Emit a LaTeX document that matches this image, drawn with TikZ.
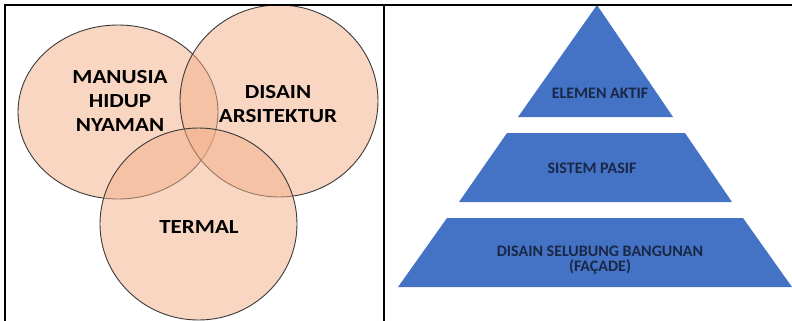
\documentclass[tikz,border=0pt]{standalone}
\usepackage{fontspec}
\setmainfont{Carlito}
\usepackage{xcolor}
\usetikzlibrary{positioning}
\definecolor{peach}{HTML}{F3B08A}
\definecolor{rim}{HTML}{3A3A3A}
\definecolor{tier}{HTML}{4472C4}
\definecolor{navy}{HTML}{1A2747}

\begin{document}
\begin{tikzpicture}[x=1pt, y=-1pt,
  venn/.style={fill=peach, fill opacity=0.52, draw=rim, line width=0.9pt},
  vennlabel/.style={align=center, font=\fontsize{20}{24}\selectfont\bfseries, text=black, inner sep=0pt, xscale=1.15, transform shape},
  tierbox/.style={fill=tier, draw=none},
  tierlabel/.style={align=center, font=\fontsize{16}{15}\selectfont\bfseries, text=navy, inner sep=0pt},
  frame/.style={draw=black, line width=1.4pt}
]
  \useasboundingbox (0,0) rectangle (792,321);
  % left cell: three overlapping circles
  \draw[venn] (118,112) ellipse [x radius=100, y radius=87];
  \draw[venn] (279,101) ellipse [x radius=99, y radius=96];
  \draw[venn] (198.5,224) ellipse [x radius=98.5, y radius=96];
  \node[vennlabel] (manusia) at (120,101) {MANUSIA\\HIDUP\\NYAMAN};
  \node[vennlabel] (disain) at (278,104) {DISAIN\\ARSITEKTUR};
  \node[vennlabel, anchor=base] (termal) at (199,233) {TERMAL};
  % right cell: pyramid
  \fill[tierbox] (597,5) -- (673,117) -- (518,117) -- cycle;
  \fill[tierbox] (507,133) -- (685,133) -- (732,202) -- (459,202) -- cycle;
  \fill[tierbox] (447,218) -- (743,218) -- (792,287) -- (398,287) -- cycle;
  \node[tierlabel, anchor=base] (aktif) at (600,98) {ELEMEN AKTIF};
  \node[tierlabel, anchor=base] (pasif) at (592,173) {SISTEM PASIF};
  \node[tierlabel] (selubung) at (600,260) {DISAIN SELUBUNG BANGUNAN\\(FAÇADE)};
  % table rules
  \draw[frame] (5,321) -- (5,5) -- (792,5);
  \draw[frame] (384,5) -- (384,321);
\end{tikzpicture}
\end{document}
